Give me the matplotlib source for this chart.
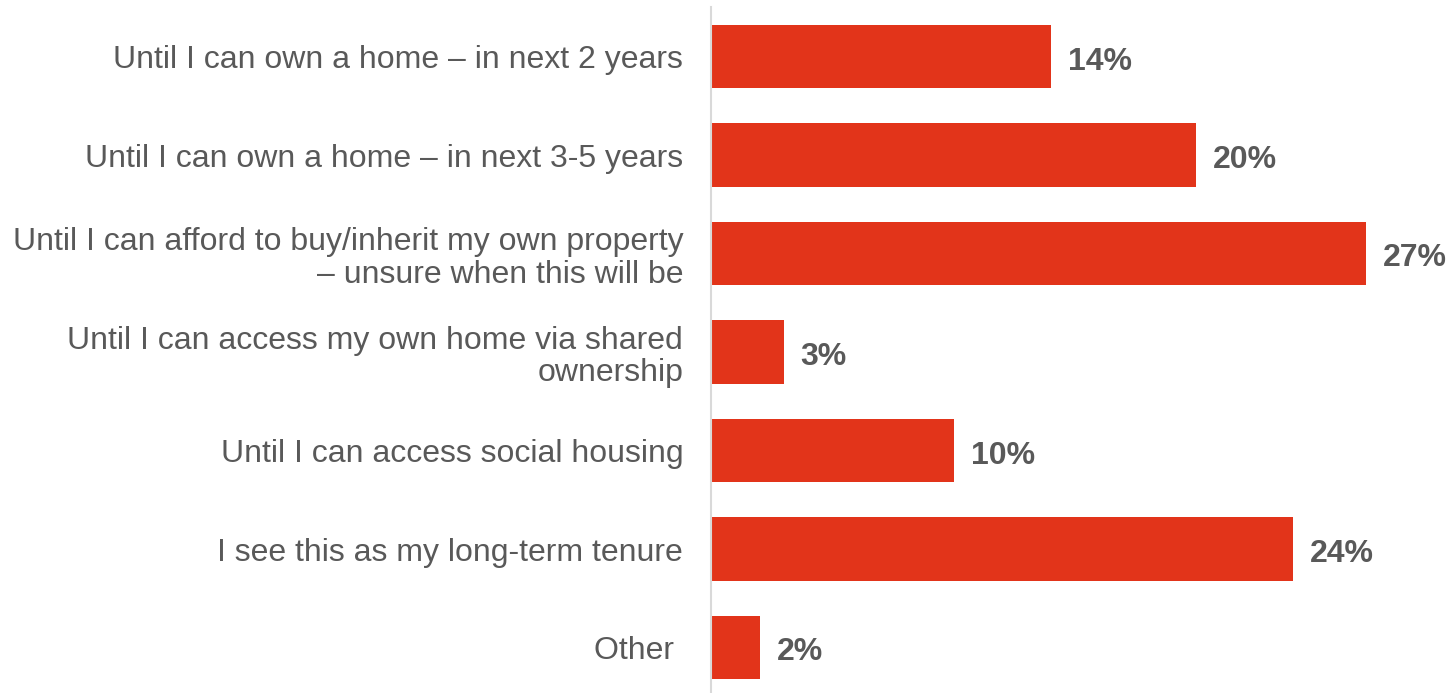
import matplotlib
matplotlib.use("Agg")
import matplotlib.pyplot as plt

categories = [
    "Until I can own a home \u2013 in next 2 years",
    "Until I can own a home \u2013 in next 3-5 years",
    "Until I can afford to buy/inherit my own property\n\u2013 unsure when this will be",
    "Until I can access my own home via shared\nownership",
    "Until I can access social housing",
    "I see this as my long-term tenure",
    "Other ",
]
values = [14, 20, 27, 3, 10, 24, 2]
value_labels = ["14%", "20%", "27%", "3%", "10%", "24%", "2%"]

BAR_COLOR = "#E2341A"
TEXT_COLOR = "#595959"
AXIS_COLOR = "#D9D9D9"

plt.rcParams["font.family"] = ["Liberation Sans", "DejaVu Sans"]

W, H, DPI = 1451, 693, 100
fig = plt.figure(figsize=(W / DPI, H / DPI), dpi=DPI)

left_px, right_px = 711, 1439
top_px, bottom_px = 7.25, 693
ax = fig.add_axes([left_px / W, 1 - bottom_px / H,
                   (right_px - left_px) / W, (bottom_px - top_px) / H])

y = list(range(len(categories)))
ax.barh(y, values, height=0.64, color=BAR_COLOR, left=0)

ax.set_xlim(0, (right_px - left_px) / 24.26)
row_px = 98.5
ax.set_ylim(-0.5 + (bottom_px - top_px) / row_px, -0.5)

ax.set_yticks(y)
ax.set_yticklabels(categories, fontsize=23, color=TEXT_COLOR,
                   linespacing=1.12)
ax.tick_params(axis="y", length=0, pad=20)
ax.set_xticks([])

for s in ("top", "right", "bottom"):
    ax.spines[s].set_visible(False)
ax.spines["left"].set_color(AXIS_COLOR)
ax.spines["left"].set_linewidth(1.5)

px = 72 / DPI
for yi, v, lab in zip(y, values, value_labels):
    ax.annotate(lab, xy=(v, yi), xytext=(17 * px, -13 * px),
                textcoords="offset points", ha="left", va="baseline",
                fontsize=23, fontweight="bold", color=TEXT_COLOR,
                annotation_clip=False)

fig.savefig("out.png", dpi=DPI)
